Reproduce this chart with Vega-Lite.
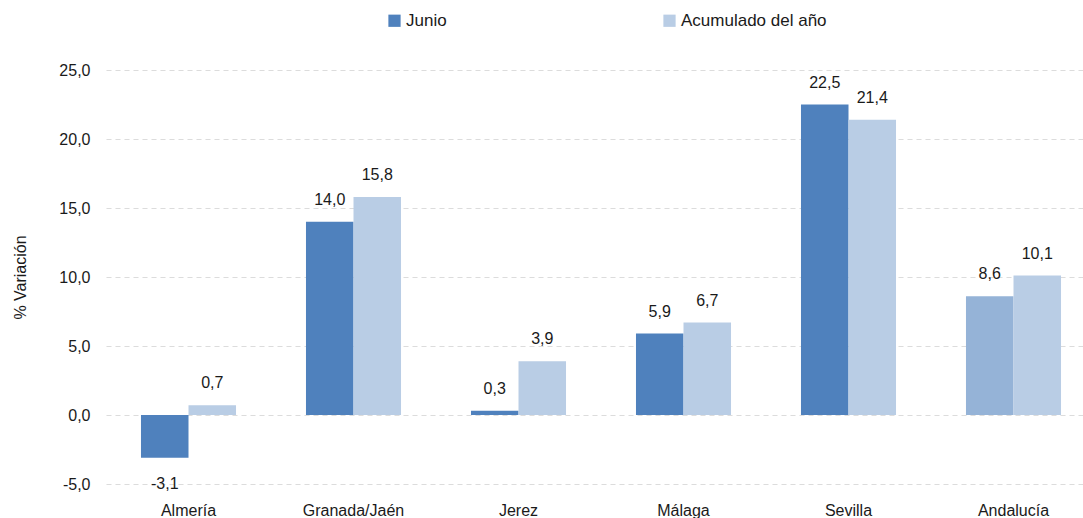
{
  "$schema": "https://vega.github.io/schema/vega-lite/v6.json",
  "autosize": {"type": "none"},
  "width": 990,
  "height": 414,
  "padding": {"left": 106, "top": 70, "right": 0, "bottom": 34},
  "background": "white",
  "config": {
    "locale": {"number": {"decimal": ",", "thousands": ".", "grouping": [3], "currency": ["", " €"], "minus": "-"}},
    "font": "Liberation Sans",
    "view": {"stroke": null}
  },
  "data": {
    "values": [
      {"region": "Almería", "serie": "Junio", "valor": -3.1},
      {"region": "Almería", "serie": "Acumulado del año", "valor": 0.7},
      {"region": "Granada/Jaén", "serie": "Junio", "valor": 14.0},
      {"region": "Granada/Jaén", "serie": "Acumulado del año", "valor": 15.8},
      {"region": "Jerez", "serie": "Junio", "valor": 0.3},
      {"region": "Jerez", "serie": "Acumulado del año", "valor": 3.9},
      {"region": "Málaga", "serie": "Junio", "valor": 5.9},
      {"region": "Málaga", "serie": "Acumulado del año", "valor": 6.7},
      {"region": "Sevilla", "serie": "Junio", "valor": 22.5},
      {"region": "Sevilla", "serie": "Acumulado del año", "valor": 21.4},
      {"region": "Andalucía", "serie": "Junio", "valor": 8.6},
      {"region": "Andalucía", "serie": "Acumulado del año", "valor": 10.1}
    ]
  },
  "encoding": {
    "x": {
      "field": "region", "type": "nominal", "sort": null,
      "scale": {"paddingInner": 0.424, "paddingOuter": 0.212},
      "axis": {"title": null, "labelAngle": 0, "domain": false, "ticks": false, "labelPadding": 18, "labelFontSize": 16, "labelColor": "#1a1a1a", "labelFont": "Liberation Sans"}
    },
    "xOffset": {"field": "serie", "type": "nominal", "sort": ["Junio", "Acumulado del año"], "scale": {"paddingInner": 0, "paddingOuter": 0}},
    "y": {
      "field": "valor", "type": "quantitative",
      "scale": {"domain": [-5, 25], "nice": false, "zero": false},
      "axis": {
        "title": "% Variación", "titleFontSize": 16, "titleFontWeight": "normal", "titleColor": "#1a1a1a", "titlePadding": 30,
        "values": [-5, 0, 5, 10, 15, 20, 25], "format": ".1f",
        "domain": false, "ticks": false, "labelPadding": 16, "labelFontSize": 16, "labelColor": "#1a1a1a",
        "grid": true, "gridColor": "#dcdcdc", "gridDash": [5, 4], "gridWidth": 1.2
      }
    }
  },
  "layer": [
    {
      "mark": {"type": "bar"},
      "encoding": {
        "color": {
          "condition": {"test": "datum.region === 'Andalucía' && datum.serie === 'Junio'", "value": "#95B3D7"},
          "field": "serie", "type": "nominal",
          "scale": {"domain": ["Junio", "Acumulado del año"], "range": ["#4F81BD", "#B9CDE5"]},
          "legend": {
            "title": null, "orient": "none", "direction": "horizontal", "legendX": 280, "legendY": -58,
            "symbolType": "square", "symbolSize": 150, "symbolStrokeWidth": 0, "labelFontSize": 17, "labelColor": "#1a1a1a",
            "labelOffset": 3, "columnPadding": 214
          }
        }
      }
    },
    {
      "transform": [{"filter": "datum.valor >= 0"}],
      "mark": {"type": "text", "dy": -22, "fontSize": 16, "color": "#1a1a1a", "baseline": "middle"},
      "encoding": {"text": {"field": "valor", "type": "quantitative", "format": ".1f"}}
    },
    {
      "transform": [{"filter": "datum.valor < 0"}],
      "mark": {"type": "text", "dy": 26, "fontSize": 16, "color": "#1a1a1a", "baseline": "middle"},
      "encoding": {"text": {"field": "valor", "type": "quantitative", "format": ".1f"}}
    }
  ]
}
